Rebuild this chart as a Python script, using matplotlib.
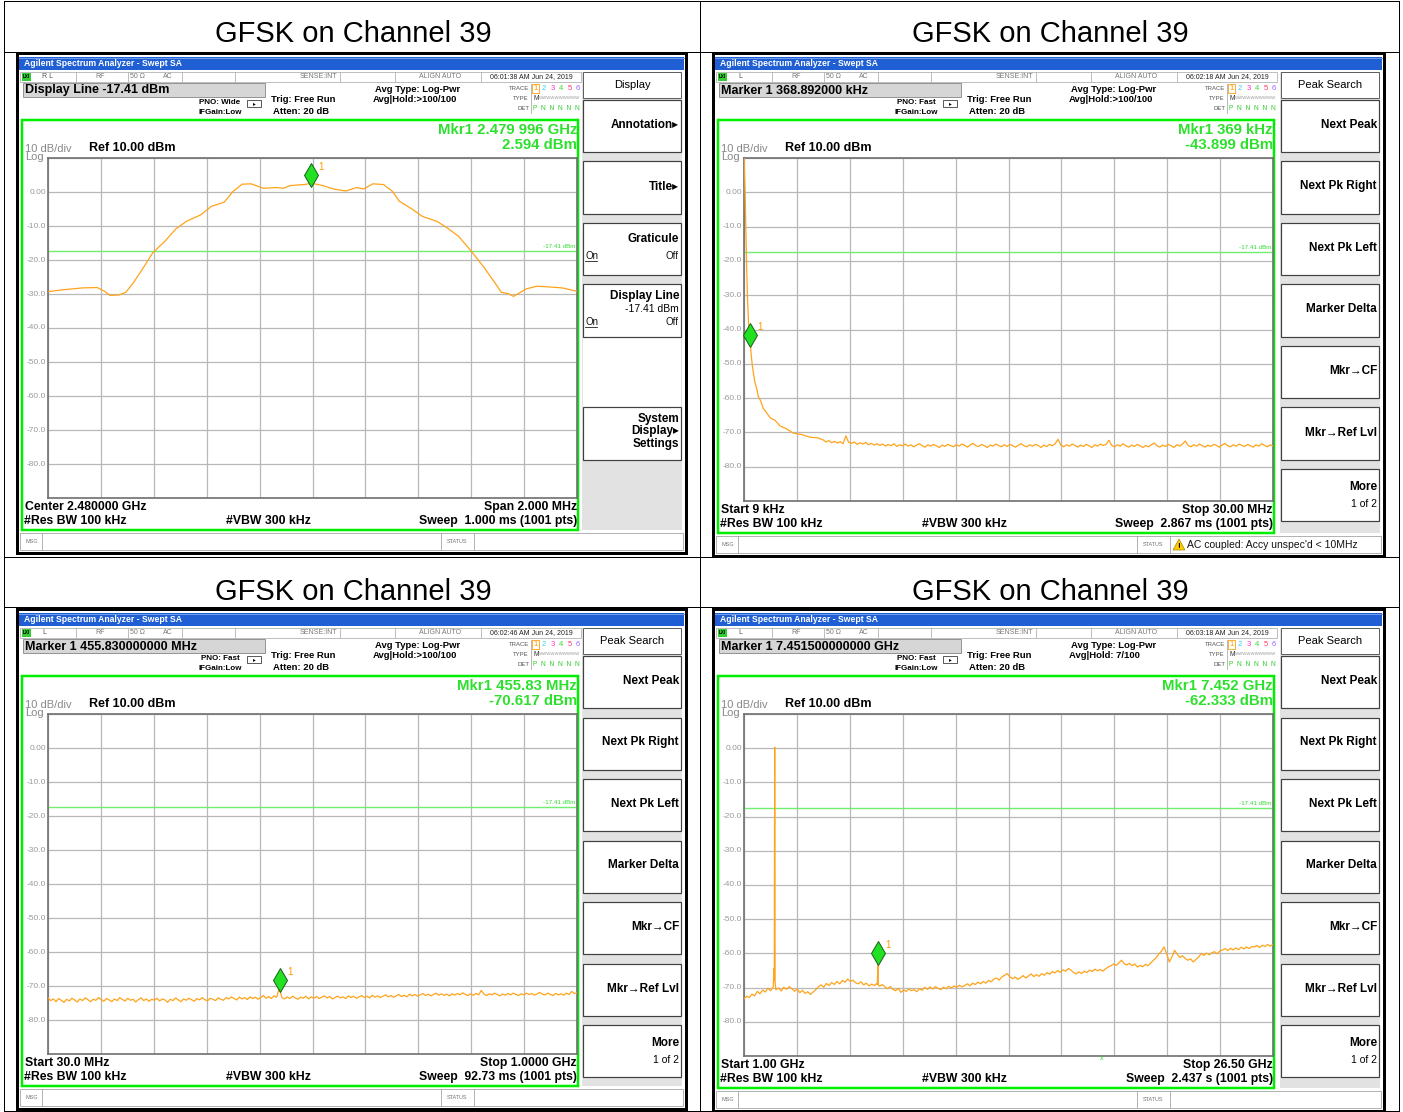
import numpy as np
import matplotlib.pyplot as plt
from matplotlib.patches import Rectangle, Polygon
from matplotlib.lines import Line2D
from matplotlib.transforms import offset_copy, blended_transform_factory

plt.rcParams['font.family'] = ['Liberation Sans', 'DejaVu Sans']

W, H = 1403, 1112
PX = 0.72  # 1 px in points (dpi 100)

# ---------------- data ----------------
title = 'GFSK on Channel 39'
display_line = -17.41
y_labels = ['0.00', '-10.0', '-20.0', '-30.0', '-40.0', '-50.0', '-60.0', '-70.0', '-80.0']

# panel 1: span 2 MHz around 2.480 GHz (offset in kHz)
p1_off_khz = [-1000, -936, -868, -814, -786, -766, -732, -706, -678, -644, -604, -556,
              -516, -476, -422, -382, -334, -300, -266, -232, -186, -138, -110, -84,
              -30, -4, 38, 78, 126, 166, 194, 228, 268, 302, 328, 376, 416, 470, 510,
              552, 598, 646, 686, 714, 740, 760, 808, 848, 890, 944, 1000]
p1_dbm = [-29.3, -28.7, -28.2, -28.1, -29.2, -30.4, -30.3, -29.5, -26.8, -22.8, -17.9, -14.3,
          -10.8, -8.6, -6.7, -4.2, -3.0, 0.2, 2.3, 2.4, 1.1, 1.3, 1.1, 1.9,
          2.2, 2.594, 1.9, 0.9, 0.3, 1.3, 0.9, 2.4, 2.2, 0.2, -2.7, -5.0, -7.2, -8.6, -10.6,
          -13.0, -17.2, -21.9, -26.3, -29.5, -29.9, -30.7, -28.5, -27.7, -27.9, -28.2, -29.2]
p1_marker = (-4, 2.594)

# panel 2: 9 kHz .. 30 MHz (MHz)
p2_head_mhz = [0.009, 0.04, 0.08, 0.12, 0.16, 0.21, 0.27, 0.32, 0.369, 0.42, 0.48, 0.55,
               0.63, 0.72, 0.82, 0.95, 1.1, 1.28, 1.5, 1.75, 2.05, 2.4, 2.8, 3.25, 3.75, 4.2]
p2_head_dbm = [14.0, 6.0, -2.0, -12.0, -22.0, -31.0, -38.5, -41.5, -43.899, -47.5, -50.5, -53.0,
               -55.5, -57.0, -59.5, -60.8, -63.0, -64.2, -65.8, -66.4, -68.1, -68.9, -70.2,
               -70.6, -71.4, -71.6]
p2_noise_dbm = [-72.2, -72.8, -72.4, -73.0, -72.6, -73.1, -72.7, -73.3, -71.0, -72.9,
                -73.2, -72.8, -73.5, -73.0, -73.4, -72.9, -73.6, -73.2, -73.7, -73.3,
                -73.8, -73.4, -74.0, -73.5, -73.9, -73.3, -74.1, -73.6, -73.9, -73.4,
                -74.0, -73.6, -74.2, -73.7, -73.3, -73.9, -74.3, -73.6, -74.0, -73.5,
                -73.9, -74.4, -73.7, -74.1, -73.5, -73.8, -74.2, -73.6, -74.0, -73.4,
                -73.8, -74.3, -73.6, -73.2, -73.9, -74.1, -73.5, -73.9, -74.4, -73.7,
                -74.0, -73.4, -73.8, -74.2, -73.6, -74.1, -73.5, -73.9, -74.3, -73.7,
                -73.3, -73.9, -74.2, -73.6, -74.0, -73.5, -73.8, -74.4, -73.7, -74.1,
                -73.5, -73.9, -73.3, -72.0, -73.7, -74.2, -73.6, -74.0, -73.4, -73.8,
                -74.3, -73.7, -74.1, -73.5, -73.9, -74.4, -73.6, -74.0, -73.4, -73.8,
                -73.5, -72.3, -73.8, -74.2, -73.6, -74.0, -73.3, -73.9, -74.3, -73.7,
                -74.1, -73.5, -73.9, -74.4, -73.8, -74.2, -73.6, -73.1, -73.9, -74.3,
                -73.7, -74.1, -73.5, -73.9, -74.4, -73.6, -74.0, -73.4, -72.5, -73.8,
                -74.2, -73.6, -74.0, -73.4, -73.9, -74.3, -73.7, -74.1, -73.5, -73.8,
                -74.3, -73.7, -73.2, -73.9, -74.2, -73.6, -74.0, -73.4, -73.8, -74.1,
                -73.5, -73.9, -74.3, -73.6, -74.0, -73.3, -73.8, -74.2, -73.6, -74.0]
p2_marker = (0.369, -43.899)

# panel 3: 30 MHz .. 1 GHz
p3_dbm = [-73.5, -74.3, -73.8, -74.6, -73.7, -74.2, -74.8, -73.9, -74.4, -73.6,
          -74.1, -74.7, -73.8, -74.3, -73.5, -74.0, -74.6, -73.9, -74.2, -73.4,
          -74.0, -74.5, -73.7, -74.1, -74.6, -73.8, -74.3, -73.4, -74.0, -74.4,
          -73.6, -74.2, -73.9, -74.7, -74.0, -73.5, -74.3, -73.8, -74.5, -73.9,
          -74.2, -73.6, -74.4, -73.8, -74.1, -74.8, -73.9, -74.3, -73.5, -74.1,
          -74.6, -73.8, -74.2, -73.6, -74.0, -74.5, -73.7, -74.1, -73.4, -74.0,
          -74.4, -73.6, -73.9, -74.3, -73.5, -73.9, -74.2, -73.4, -73.8, -73.2,
          -73.7, -74.1, -73.3, -73.8, -73.4, -74.0, -73.2, -73.7, -73.3, -73.9,
          -73.4, -72.8, -73.6, -73.1, -73.7, -72.9, -73.3, -70.6, -73.4, -73.8,
          -73.2, -73.7, -73.0, -73.5, -73.9, -73.3, -73.6, -73.0, -73.8, -73.2,
          -73.6, -73.1, -73.7, -73.3, -72.9, -73.5, -73.1, -73.8, -73.4, -73.0,
          -73.5, -73.2, -73.7, -72.9, -73.4, -73.0, -73.6, -73.2, -72.8, -73.4,
          -73.0, -73.5, -72.7, -73.3, -72.9, -73.4, -73.0, -72.6, -73.2, -72.8,
          -73.3, -72.9, -72.5, -73.1, -72.7, -73.2, -72.4, -72.9, -72.5, -73.0,
          -72.6, -72.2, -72.8, -72.4, -72.9, -72.5, -72.1, -72.7, -72.3, -72.8,
          -72.4, -72.9, -72.3, -72.7, -72.2, -72.6, -72.0, -72.5, -72.8, -72.3,
          -72.7, -72.2, -72.6, -71.3, -72.4, -72.8, -72.3, -72.6, -72.1, -72.5,
          -72.9, -72.4, -72.7, -72.2, -72.6, -72.1, -72.5, -72.8, -72.3, -72.6,
          -72.1, -72.5, -72.2, -72.7, -72.3, -71.9, -72.4, -72.6, -72.1, -72.5,
          -72.8, -72.2, -72.6, -72.3, -72.7, -72.1, -72.5, -71.6, -72.2, -72.0]
p3_marker = (455.83, -70.617)

# panel 4: 1 GHz .. 26.5 GHz
p4_dbm = [-73.3, -72.5, -72.9, -71.9, -72.4, -71.1, -71.8, -70.7, -71.3, -70.2,
          -70.9, -69.8, -70.6, -70.1, -71.0, -69.9, -70.5, -69.7, -70.3, -71.1,
          -70.4, -71.5, -70.8, -71.7, -71.2, -72.0, -71.3, -70.6, -69.8, -69.2,
          -69.9, -68.8, -69.4, -68.5, -69.1, -68.2, -68.9, -67.9, -68.4, -67.5,
          -68.2, -67.8, -68.6, -68.9, -68.3, -69.2, -68.7, -69.5, -69.0, -69.4,
          -68.8, -69.6, -69.1, -69.8, -70.3, -69.7, -70.5, -70.9, -70.2, -71.4,
          -70.7, -71.1, -70.4, -70.9, -70.6, -71.2, -70.3, -70.8, -69.9, -70.5,
          -69.8, -70.4, -69.7, -70.2, -70.6, -69.9, -70.3, -69.6, -70.1, -69.5,
          -70.0, -69.3, -69.8, -69.4, -68.9, -69.5, -68.7, -69.1, -68.4, -68.9,
          -68.2, -68.7, -67.9, -68.3, -67.5, -67.2, -67.8, -66.9, -66.4, -65.9,
          -66.8, -67.4, -66.9, -67.6, -67.1, -66.5, -67.2, -66.6, -66.0, -66.8,
          -66.2, -66.7, -65.9, -66.4, -65.6, -66.1, -65.3, -65.7, -65.0, -65.5,
          -64.8, -65.2, -64.4, -64.9, -65.6, -66.0, -65.4, -65.9, -65.2, -65.6,
          -64.9, -65.3, -64.6, -65.1, -64.7, -65.2, -64.5, -64.0, -63.6, -63.1,
          -63.5, -62.8, -62.0, -63.0, -63.4, -62.9, -63.6, -63.1, -64.0, -63.5,
          -63.9, -63.2, -63.6, -62.8, -62.0, -61.3, -60.2, -59.4, -58.1, -60.1,
          -62.5, -61.0, -59.1, -60.3, -61.2, -60.7, -61.5, -62.0, -61.6, -62.5,
          -61.8, -61.1, -60.0, -60.6, -59.9, -60.4, -59.8, -59.5, -60.1, -59.3,
          -59.0, -58.6, -59.2, -58.5, -59.0, -58.4, -58.9, -58.2, -58.7, -58.1,
          -58.6, -58.0, -58.1, -57.7, -58.3, -57.6, -58.0, -57.4, -57.9, -57.3]
p4_spur_ghz = [2.44, 2.46, 2.48, 2.50, 7.43, 7.452, 7.47]
p4_spur_dbm = [-64.5, -68.0, 0.3, -68.5, -69.0, -62.333, -69.2]
p4_marker = (7.452, -62.333)

keys_display = [
    [('Annotation\u25b8', 25, 'bold')],
    [('Title\u25b8', 25, 'bold')],
    [('Graticule', 16, 'bold'), ('ONOFF', 33, '')],
    [('Display Line', 11.5, 'bold'), ('-17.41 dBm', 24.5, 'normal'), ('ONOFF', 37.5, '')],
    None,
    [('System', 11.5, 'bold'), ('Display\u25b8', 23.5, 'bold'), ('Settings', 36.5, 'bold')],
]
keys_peak = [
    [('Next Peak', 25, 'bold')],
    [('Next Pk Right', 25, 'bold')],
    [('Next Pk Left', 25, 'bold')],
    [('Marker Delta', 25, 'bold')],
    [('Mkr\u2192CF', 25, 'bold')],
    [('Mkr\u2192Ref Lvl', 25, 'bold')],
    [('More', 18, 'bold'), ('1 of 2', 35, 'normal')],
]

fig = plt.figure(figsize=(W / 100, H / 100), dpi=100)


def rect(x, y, w, h, fc='none', ec='none', lw=1.0, z=1):
    fig.add_artist(Rectangle((x / W, 1 - (y + h) / H), w / W, h / H, transform=fig.transFigure,
                             facecolor=fc, edgecolor=ec, linewidth=lw * PX, zorder=z))


def line(x0, y0, x1, y1, c='black', lw=1.0, z=2):
    fig.add_artist(Line2D([x0 / W, x1 / W], [1 - y0 / H, 1 - y1 / H], transform=fig.transFigure,
                          color=c, linewidth=lw * PX, zorder=z))


def text(x, y, s, size=7, c='black', ha='left', weight='normal', z=5):
    fig.text(x / W, 1 - y / H, s, fontsize=size, color=c, ha=ha, va='center',
             fontweight=weight, zorder=z)


def panel(ox, oy, pw, gb, hdr, rl, pno, time_s, hold_s, mkr, bl, br, sweep,
          menu, keys, xlim, traces, marker, status=None, xmark=None):
    ph = gb + 55
    rect(ox, oy, pw, ph, fc='white', ec='black', lw=3, z=1)
    # title bar
    rect(ox + 2, oy + 4, pw - 4, 13, fc='#1f5fd3', z=1.5)
    line(ox + 2, oy + 4.5, ox + pw - 2, oy + 4.5, c='#6f9ee8', lw=1, z=1.6)
    text(ox + 7, oy + 11, 'Agilent Spectrum Analyzer - Swept SA', 6.2, 'white', weight='bold')
    # status row
    rect(ox + 3, oy + 19, 561, 10, fc='white', ec='#b0b0b0', lw=0.8, z=1.5)
    for dx in [59, 111, 165, 218, 323, 378, 464]:
        line(ox + dx, oy + 19, ox + dx, oy + 29, c='#b0b0b0', lw=0.8)
    rect(ox + 5, oy + 20, 9, 8, fc='#33cc33', z=2)
    text(ox + 9.5, oy + 24, 'LXI', 3.3, 'black', ha='center', weight='bold')
    text(ox + 25, oy + 24, rl, 5, '#555555')
    text(ox + 83, oy + 24, 'RF', 5, '#777777', ha='center')
    text(ox + 120, oy + 24, '50 \u03a9', 5, '#777777', ha='center')
    text(ox + 151, oy + 24, 'AC', 5, '#777777', ha='center')
    text(ox + 301, oy + 24, 'SENSE:INT', 5, '#777777', ha='center')
    text(ox + 423, oy + 24, 'ALIGN AUTO', 5, '#777777', ha='center')
    text(ox + 514, oy + 24, time_s, 5, '#222222', ha='center')
    # header box
    rect(ox + 6, oy + 30, 242, 14, fc='#d6d6d6', ec='#808080', lw=0.8, z=1.5)
    text(ox + 8, oy + 37.5, hdr, 9, weight='bold')
    text(ox + 223, oy + 50, pno, 5.8, ha='right', weight='bold')
    text(ox + 225, oy + 60, 'IFGain:Low', 5.8, ha='right', weight='bold')
    rect(ox + 230, oy + 47, 14, 7, ec='#333333', lw=0.8, z=2)
    text(ox + 237, oy + 51, '\u25b8', 4, ha='center')
    text(ox + 254, oy + 47, 'Trig: Free Run', 6.8, weight='bold')
    text(ox + 256, oy + 58, 'Atten: 20 dB', 6.8, weight='bold')
    text(ox + 358, oy + 36, 'Avg Type: Log-Pwr', 6.8, weight='bold')
    text(ox + 356, oy + 47, hold_s, 6.8, weight='bold')
    # trace table
    text(ox + 512, oy + 35, 'TRACE', 4.3, '#555555', ha='right')
    text(ox + 512, oy + 45, 'TYPE', 4.3, '#555555', ha='right')
    text(ox + 512, oy + 55, 'DET', 4.3, '#555555', ha='right')
    line(ox + 514, oy + 31, ox + 514, oy + 60, c='#aaaaaa', lw=0.8)
    for i, col in enumerate(['#ff9900', '#33ccff', '#ff33cc', '#33dd33', '#ff3366', '#9966ff']):
        text(ox + 518.5 + 8.5 * i, oy + 35, str(i + 1), 5.5, col, ha='center')
    rect(ox + 515, oy + 30.5, 7, 9, ec='#ff9900', lw=0.8, z=2)
    text(ox + 516, oy + 45, 'M', 4.8, '#333333')
    text(ox + 522, oy + 45, 'WWWWWWWWWW', 3.2, '#999999')
    text(ox + 516, oy + 55, 'P  N  N  N  N  N', 4.8, '#33cc33')
    # green frame
    rect(ox + 5, oy + 67, 556, gb + 32 - 67, ec='#00ee00', lw=2.5, z=2)
    text(ox + 560, oy + 77, mkr[0], 10.8, '#2ee02e', ha='right', weight='bold')
    text(ox + 560, oy + 92, mkr[1], 10.8, '#2ee02e', ha='right', weight='bold')
    text(ox + 8, oy + 96, '10 dB/div', 8, '#888888')
    text(ox + 8, oy + 104, 'Log', 8, '#888888')
    text(ox + 72, oy + 95, 'Ref 10.00 dBm', 9, weight='bold')
    # graticule
    ax = fig.add_axes([(ox + 31) / W, 1 - (oy + gb) / H, 529 / W, (gb - 105) / H])
    ax.set_zorder(3)
    ax.set_xlim(*xlim)
    ax.set_ylim(-90, 10)
    ax.set_xticks(np.linspace(xlim[0], xlim[1], 11))
    ax.set_yticks(np.arange(-90, 11, 10))
    ax.grid(True, color='#b8b8b8', lw=0.9)
    ax.tick_params(length=0, labelleft=False, labelbottom=False)
    for s in ax.spines.values():
        s.set_color('#707070')
        s.set_linewidth(1.2)
    for k, lab in enumerate(y_labels):
        yy = oy + 105 + (k + 1) * (gb - 105) / 10
        text(ox + 29, yy, lab, 6, '#999999', ha='right')
    ax.axhline(display_line, color='#70ee70', lw=1)
    bt = blended_transform_factory(ax.transAxes, ax.transData)
    ax.text(0.997, display_line + 0.6, '-17.41 dBm', transform=bt, fontsize=4.5,
            color='#33dd33', ha='right', va='bottom')
    for tx, ty in traces:
        ax.plot(tx, ty, color='#ffa31a', lw=0.9, zorder=3)
    mx, my = marker
    td = offset_copy(ax.transData, fig=fig, x=0, y=8.3, units='dots')
    ax.plot([mx], [my], marker='d', ms=12, mfc='#22e022', mec='#1b5e1b', mew=0.7,
            transform=td, zorder=5, clip_on=False)
    tl = offset_copy(ax.transData, fig=fig, x=7, y=16, units='dots')
    ax.text(mx, my, '1', transform=tl, fontsize=7, color='#ff9900', ha='left', va='center')
    # bottom annotations
    text(ox + 8, oy + gb + 9, bl, 8.8, weight='bold')
    text(ox + 560, oy + gb + 9, br, 8.8, ha='right', weight='bold')
    text(ox + 7, oy + gb + 23, '#Res BW 100 kHz', 8.8, weight='bold')
    text(ox + 209, oy + gb + 23, '#VBW 300 kHz', 8.8, weight='bold')
    text(ox + 560, oy + gb + 23, sweep, 8.8, ha='right', weight='bold')
    if xmark is not None:
        text(ox + xmark, oy + gb + 3, 'x', 5, '#33dd33', ha='center')
    # msg bar
    rect(ox + 3, oy + gb + 35, pw - 6, 17, fc='white', ec='#a0a0a0', lw=0.8, z=1.5)
    line(ox + 25, oy + gb + 35, ox + 25, oy + gb + 52, c='#a0a0a0', lw=0.8)
    line(ox + 424, oy + gb + 35, ox + 424, oy + gb + 52, c='#a0a0a0', lw=0.8)
    line(ox + 457, oy + gb + 35, ox + 457, oy + gb + 52, c='#a0a0a0', lw=0.8)
    text(ox + 8, oy + gb + 43.5, 'MSG', 4, '#777777')
    text(ox + 440, oy + gb + 43.5, 'STATUS', 4, '#777777', ha='center')
    if status:
        tx0, ty0 = ox + 460, oy + gb + 49
        fig.add_artist(Polygon([((tx0) / W, 1 - ty0 / H), ((tx0 + 12) / W, 1 - ty0 / H),
                                ((tx0 + 6) / W, 1 - (ty0 - 11) / H)], closed=True,
                               transform=fig.transFigure, fc='#ffcc00', ec='#aa8800',
                               lw=0.5, zorder=4))
        text(tx0 + 6, ty0 - 3.5, '!', 6, 'black', ha='center', weight='bold')
        text(tx0 + 14, oy + gb + 43.5, status, 7.5, '#111111')
    # softkeys
    cx, cw = pw - 104, 100
    rect(ox + cx, oy + 19, cw, gb + 32 - 19, fc='#e2e2e2', z=1.5)
    rect(ox + cx + 1, oy + 19, cw - 2, 26, fc='white', ec='#606060', lw=1, z=1.7)
    text(ox + cx + cw / 2, oy + 32, menu, 8, ha='center')
    for i, key in enumerate(keys):
        top = oy + 47 + i * 61.5
        if key is None:
            rect(ox + cx + 1, top - 9.5, cw - 2, 71, fc='white', z=1.6)
            continue
        rect(ox + cx + 1, top, cw - 2, 52, fc='white', ec='#404040', lw=1.2, z=1.7)
        for s, dy, wgt in key:
            if s == 'ONOFF':
                text(ox + cx + 3, top + dy, 'On', 7, '#111111')
                line(ox + cx + 3, top + dy + 5, ox + cx + 15, top + dy + 5, c='#111111', lw=0.8, z=5)
                text(ox + cx + cw - 3, top + dy, 'Off', 7, '#111111', ha='right')
            else:
                text(ox + cx + cw - 3, top + dy, s, 8.5 if wgt == 'bold' else 7.5,
                     ha='right', weight=wgt)


# table grid and titles
for xx in [4, 700, 1399]:
    line(xx, 1, xx, 1111, lw=1, z=0.5)
for yy in [1, 52, 557, 607, 1111]:
    line(4, yy, 1399, yy, lw=1, z=0.5)
for cx_, cy_ in [(353, 33), (1050, 33), (353, 591), (1050, 591)]:
    text(cx_, cy_ + 1, title, 21, ha='center')

p2_f = np.concatenate([p2_head_mhz, np.linspace(4.5, 30.0, len(p2_noise_dbm))])
p2_v = np.concatenate([p2_head_dbm, p2_noise_dbm])
p3_f = np.linspace(30.0, 1000.0, len(p3_dbm))
p4_f = np.concatenate([np.linspace(1.0, 26.5, len(p4_dbm)), p4_spur_ghz])
p4_v = np.concatenate([p4_dbm, p4_spur_dbm])
order = np.argsort(p4_f, kind='stable')
p4_f, p4_v = p4_f[order], p4_v[order]

panel(17, 53, 669, 445, 'Display Line -17.41 dBm', 'R L', 'PNO: Wide',
      '06:01:38 AM Jun 24, 2019', 'Avg|Hold:>100/100', ('Mkr1 2.479 996 GHz', '2.594 dBm'),
      'Center 2.480000 GHz', 'Span 2.000 MHz', 'Sweep  1.000 ms (1001 pts)',
      'Display', keys_display, (-1000, 1000), [(p1_off_khz, p1_dbm)], p1_marker)

panel(713, 53, 671, 448, 'Marker 1 368.892000 kHz', 'L', 'PNO: Fast',
      '06:02:18 AM Jun 24, 2019', 'Avg|Hold:>100/100', ('Mkr1 369 kHz', '-43.899 dBm'),
      'Start 9 kHz', 'Stop 30.00 MHz', 'Sweep  2.867 ms (1001 pts)',
      'Peak Search', keys_peak, (0.009, 30.0), [(p2_f, p2_v)], p2_marker,
      status="AC coupled: Accy unspec'd < 10MHz")

panel(17, 609, 669, 445, 'Marker 1 455.830000000 MHz', 'L', 'PNO: Fast',
      '06:02:46 AM Jun 24, 2019', 'Avg|Hold:>100/100', ('Mkr1 455.83 MHz', '-70.617 dBm'),
      'Start 30.0 MHz', 'Stop 1.0000 GHz', 'Sweep  92.73 ms (1001 pts)',
      'Peak Search', keys_peak, (30.0, 1000.0), [(p3_f, p3_dbm)], p3_marker)

panel(713, 609, 671, 447, 'Marker 1 7.451500000000 GHz', 'L', 'PNO: Fast',
      '06:03:18 AM Jun 24, 2019', 'Avg|Hold: 7/100', ('Mkr1 7.452 GHz', '-62.333 dBm'),
      'Start 1.00 GHz', 'Stop 26.50 GHz', 'Sweep  2.437 s (1001 pts)',
      'Peak Search', keys_peak, (1.0, 26.5), [(p4_f, p4_v)], p4_marker, xmark=389)

fig.savefig('out.png', dpi=100)
